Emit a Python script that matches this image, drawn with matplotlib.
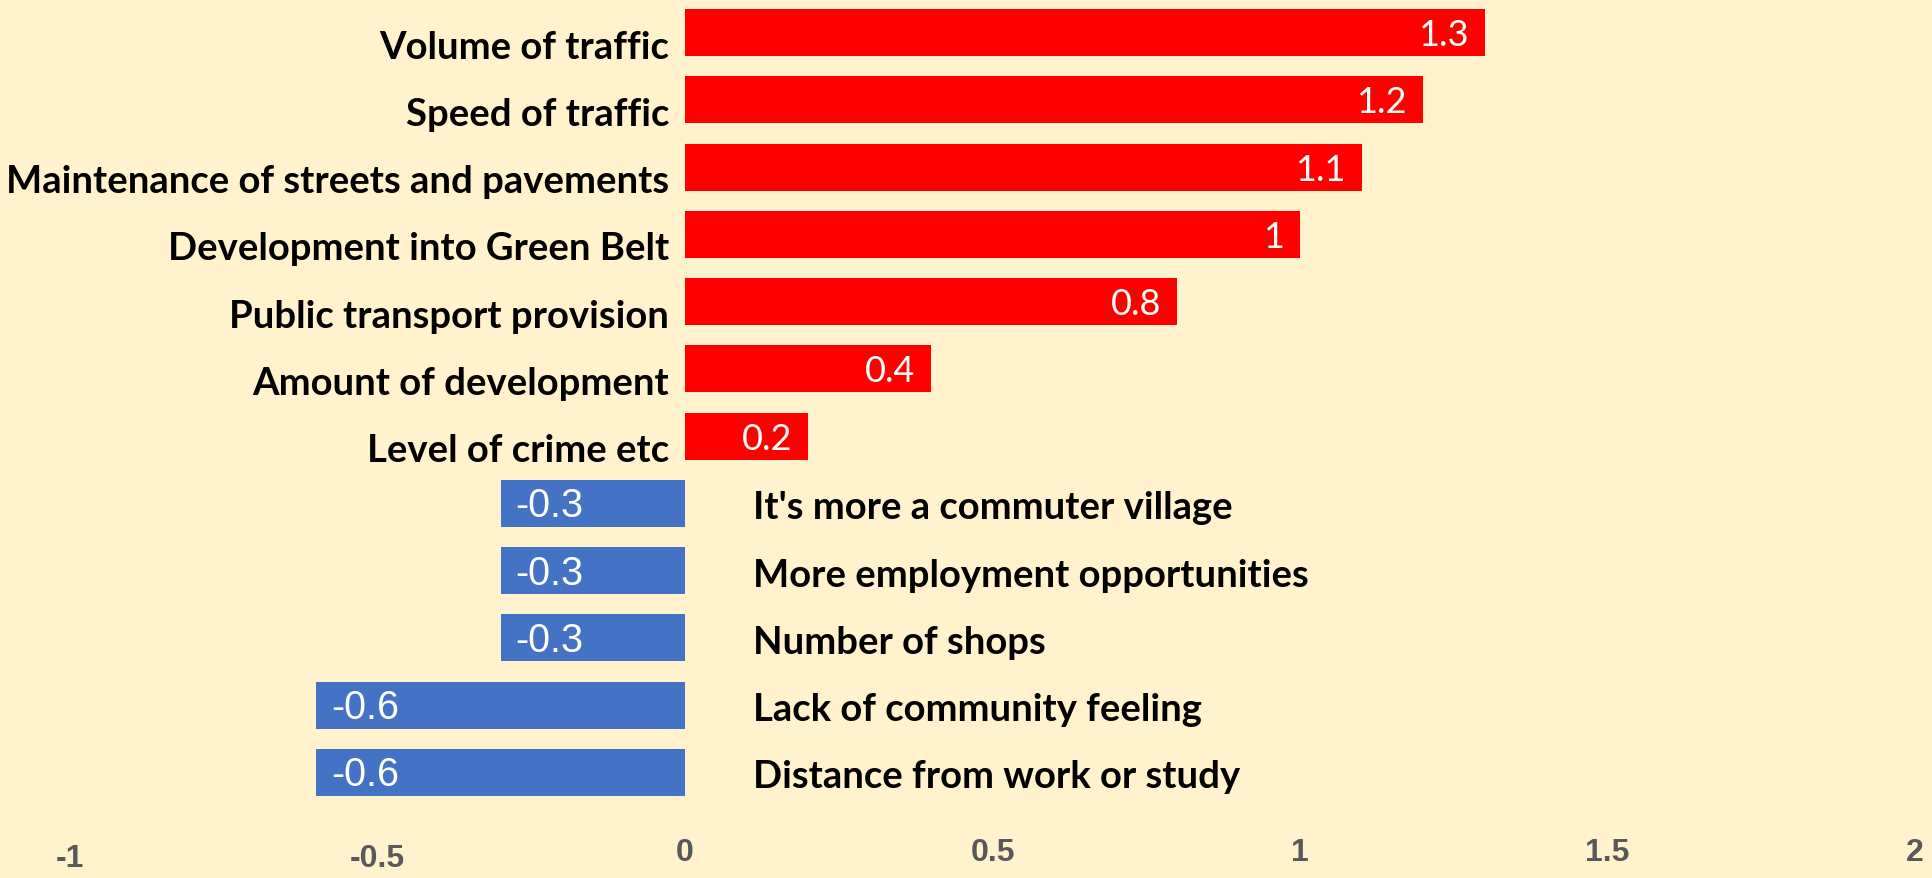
import matplotlib
matplotlib.use("Agg")
import matplotlib.pyplot as plt
from matplotlib.transforms import offset_copy, ScaledTranslation

categories = ["Volume of traffic", "Speed of traffic", "Maintenance of streets and pavements",
              "Development into Green Belt", "Public transport provision", "Amount of development",
              "Level of crime etc", "It's more a commuter village", "More employment opportunities",
              "Number of shops", "Lack of community feeling", "Distance from work or study"]
values = [1.3, 1.2, 1.1, 1, 0.8, 0.4, 0.2, -0.3, -0.3, -0.3, -0.6, -0.6]
value_labels = ["1.3", "1.2", "1.1", "1", "0.8", "0.4", "0.2", "-0.3", "-0.3", "-0.3", "-0.6", "-0.6"]
xticks = [-1, -0.5, 0, 0.5, 1, 1.5, 2]
xtick_labels = ["-1", "-0.5", "0", "0.5", "1", "1.5", "2"]

BG = "#FFF2CC"
RED = "#FF0000"
BLUE = "#4472C4"

fig = plt.figure(figsize=(19.32, 8.79), dpi=100, facecolor=BG)
ax = fig.add_axes([70/1932, 1 - 807/879, 1845/1932, 807/879])
ax.set_facecolor(BG)

ypos = list(range(len(categories)))
colors = [RED if v >= 0 else BLUE for v in values]
ax.barh(ypos, values, height=0.70, color=colors)
ax.set_ylim(len(categories) - 0.5, -0.5)
ax.set_xlim(-1, 2)

for s in ax.spines.values():
    s.set_visible(False)
ax.set_yticks([])
ax.set_xticks(xticks)
ax.set_xticklabels(xtick_labels, fontsize=23, fontweight="bold", color="#595959",
                   family="Liberation Sans")
ax.tick_params(axis="x", length=0, pad=22)
for lbl, t in zip(ax.get_xticklabels(), xticks):
    if t < 0:
        lbl.set_transform(lbl.get_transform() + ScaledTranslation(0, -6/100, fig.dpi_scale_trans))

for y, v, cat, vl in zip(ypos, values, categories, value_labels):
    if v >= 0:
        tr = offset_copy(ax.transData, fig=fig, x=-16, y=-14, units="dots")
        ax.text(0, y, cat, transform=tr, ha="right", va="center", fontsize=27.5,
                fontweight="bold", family="Lato", color="black")
        tr2 = offset_copy(ax.transData, fig=fig, x=-16, y=-2, units="dots")
        ax.text(v, y, vl, transform=tr2, ha="right", va="center", fontsize=26,
                family="Lato", color="white")
    else:
        tr = offset_copy(ax.transData, fig=fig, x=68, y=-4, units="dots")
        ax.text(0, y, cat, transform=tr, ha="left", va="center", fontsize=27.5,
                fontweight="bold", family="Lato", color="black")
        tr2 = offset_copy(ax.transData, fig=fig, x=15, y=-2, units="dots")
        ax.text(v, y, vl, transform=tr2, ha="left", va="center", fontsize=28.5,
                family="Liberation Sans", color="white")

fig.savefig("out.png", dpi=100, facecolor=BG)
